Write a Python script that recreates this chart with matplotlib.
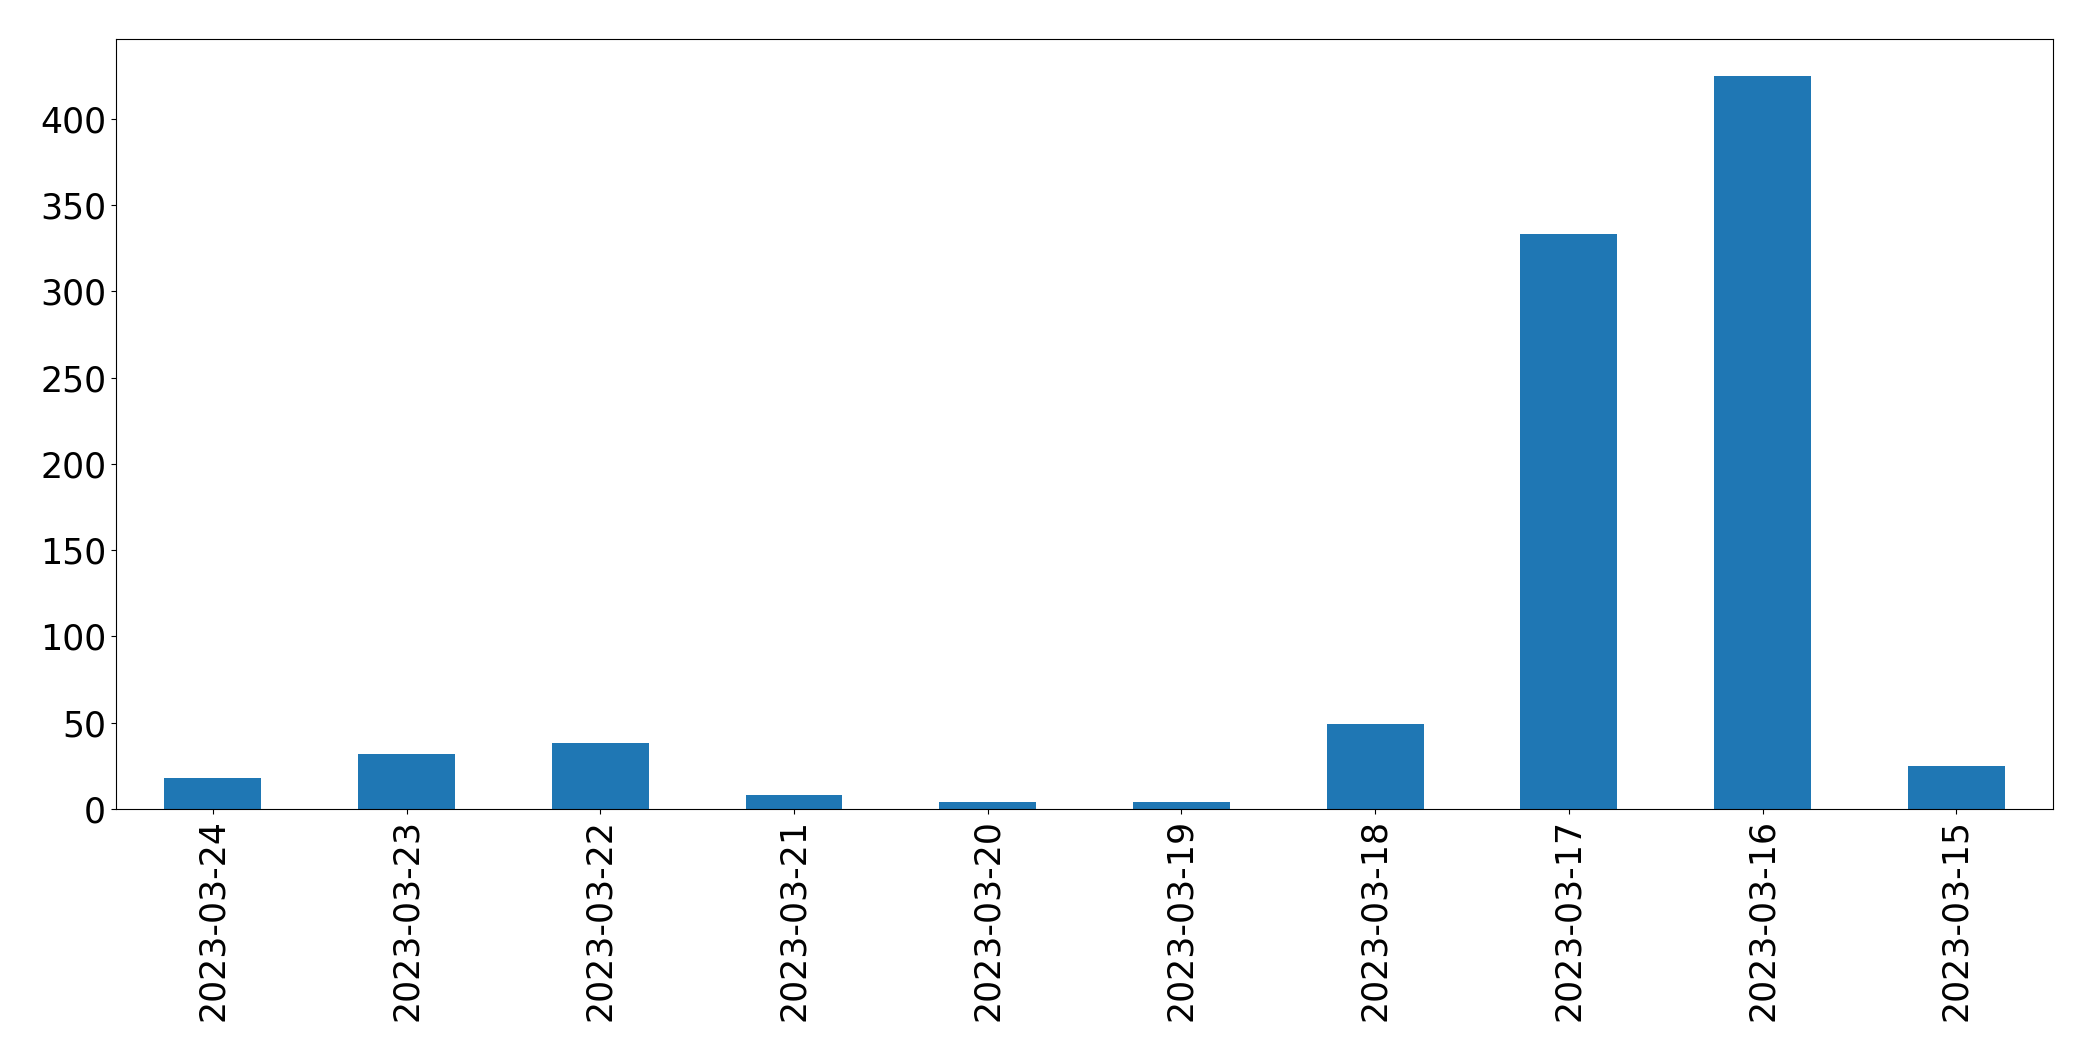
import matplotlib
matplotlib.use("Agg")
import matplotlib.pyplot as plt

# daily counts, newest first (as in the source)
dates = ["2023-03-24", "2023-03-23", "2023-03-22", "2023-03-21", "2023-03-20",
         "2023-03-19", "2023-03-18", "2023-03-17", "2023-03-16", "2023-03-15"]
counts = [18, 32, 38, 8, 4, 4, 49, 333, 425, 25]

fig = plt.figure(figsize=(20.93, 10.61), dpi=100)
ax = fig.add_axes([0.0554, 0.2375, 0.9256, 0.7257])

x = list(range(len(dates)))
ax.bar(x, counts, width=0.5, color="#1f77b4")
ax.set_xlim(-0.5, len(dates) - 0.5)
ax.set_xticks(x)
ax.set_xticklabels(dates, rotation=90)
ax.tick_params(axis="both", labelsize=25)

fig.savefig("out.png", dpi=100)
